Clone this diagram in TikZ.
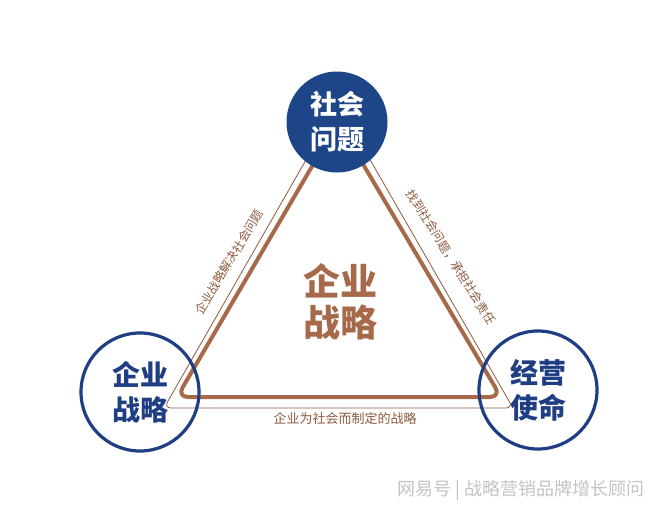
\documentclass[tikz,border=0pt]{standalone}
\usepackage{fontspec}
\newfontfamily\cjk{Noto Sans CJK SC}
\usetikzlibrary{positioning}
\definecolor{Navy}{HTML}{1E4588}
\definecolor{RingBlue}{HTML}{1F3E84}
\definecolor{Rust}{HTML}{A66A4A}
\definecolor{RustDark}{HTML}{8E5A3E}
\definecolor{Mark}{HTML}{C4C4C4}

\begin{document}
\begin{tikzpicture}[x=1pt,y=-1pt,
          hub/.style={circle,fill=Navy,
            minimum size=101pt,inner sep=0pt,text=white,align=center,
            font=\cjk\bfseries\fontsize{27}{35}\selectfont},
          ring/.style={circle,draw=RingBlue,line width=3.2pt,
            minimum size=118pt,inner sep=0pt,text=RingBlue,align=center,
            font=\cjk\bfseries\fontsize{28}{35}\selectfont},
          band/.style={draw=Rust,line width=4pt,rounded corners=11pt,
            line join=round},
          rule/.style={draw=RustDark,line width=0.8pt,rounded corners=7pt},
          side/.style={text=RustDark,inner sep=1pt,
            font=\cjk\fontsize{12}{14}\selectfont}]
        \useasboundingbox[fill=white] (0,0) rectangle (660,520);

        % corners of the two triangles
        \coordinate (apexA) at (338,122);
        \coordinate (leftA) at (177,397);
        \coordinate (rightA) at (501,397);
        \coordinate (apexB) at (338,104);
        \coordinate (leftB) at (164,408);
        \coordinate (rightB) at (513,408);

        \draw[rule] (leftB) -- (apexB) -- (rightB) -- cycle;
        \draw[band] (leftA) -- (apexA) -- (rightA) -- cycle;

        \node[hub] (issue) at (337,122) {社会\\问题};
        \node[ring] (strategy) at (140,392) {企业\\战略};
        \node[ring] (mission) at (538,390) {经营\\使命};

        \node[text=Rust,align=center,
              font=\cjk\bfseries\fontsize{37}{41}\selectfont]
          (core) at (340,302) {企业\\战略};

        % labels along the sides
        \node[side,rotate=59] (leftlab) at (229,262) {企业战略解决社会问题};
        \node[side,rotate=-58] (rightlab) at (451,257)
          {找到社会问题，承担社会责任};
        \node[side,font=\cjk\fontsize{13}{15}\selectfont]
          (baselab) at (345,419) {企业为社会而制定的战略};

        \node[text=Mark,font=\cjk\fontsize{18}{20}\selectfont,anchor=east]
          (mark) at (648,490) {网易号 | 战略营销品牌增长顾问};
      \end{tikzpicture}
\end{document}
